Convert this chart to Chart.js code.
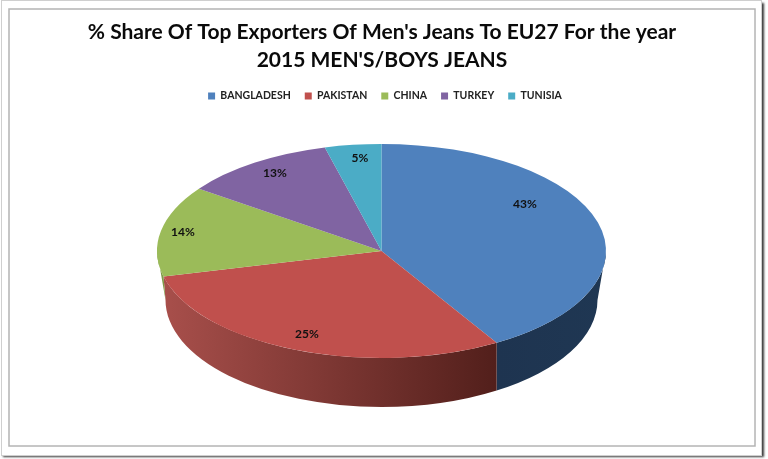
<!DOCTYPE html>
<html lang="en">
<head>
    <meta charset="UTF-8">
    <title>% Share Of Top Exporters</title>
    <style>
        html, body { margin: 0; padding: 0; background: #fff; }
        #wrap { width: 768px; height: 459px; }
    </style>
</head>
<body>
    <div id="wrap"><canvas id="myChart" width="768" height="459"></canvas></div>

    <script src="https://cdnjs.cloudflare.com/ajax/libs/Chart.js/4.4.0/chart.umd.min.js"></script>
    <script>
        const categories = ["BANGLADESH", "PAKISTAN", "CHINA", "TURKEY", "TUNISIA"];
        const shares = [43, 25, 14, 13, 5];
        const titleLines = ["% Share Of Top Exporters Of Men's Jeans To EU27 For the year", "2015 MEN'S/BOYS JEANS"];

        const topColors = ["#4f81bd", "#c0504d", "#9bbb59", "#8064a2", "#4bacc6"];
        const wallColors = [["#1e3450", "#1f3753"], ["#a84f4b", "#521f1b"], ["#7f9a48", "#7f9a48"], ["#5f4a7a", "#5f4a7a"], ["#35808f", "#35808f"]];
        const labelSpots = [[525, 204], [307, 334], [183, 232], [275, 173], [360, 158]];

        // where the pie lands on the page, top face and bottom rim
        const face = { x: 381.5, y: 251, rx: 224.5, ry: 107 };
        const rim = { x: 381.5, y: 300, rx: 216, ry: 107 };
        const tilt = 0.81; // the near side of the pie looks wider, like the perspective in the excel chart

        function warp(a) {
            // a is a canvas angle, 0 at top is -PI/2
            let t = a + Math.PI / 2;
            t = Math.atan2(Math.sin(t), Math.cos(t));
            let turns = (a + Math.PI / 2 - t);
            return 2 * Math.atan(tilt * Math.tan(t / 2)) + turns - Math.PI / 2;
        }

        // same x on the bottom rim, so the slice edge on the wall stays vertical
        function rimAngle(a) {
            const c = face.rx * Math.cos(a) / rim.rx;
            return Math.acos(Math.max(-1, Math.min(1, c)));
        }

        const pie3d = {
            id: "pie3d",
            beforeDraw(chart) {
                const ctx = chart.ctx;
                ctx.save();
                ctx.fillStyle = "#fff";
                ctx.fillRect(0, 0, 768, 459);
                ctx.shadowColor = "rgba(40,40,40,0.9)";
                ctx.shadowBlur = 2;
                ctx.shadowOffsetX = 2;
                ctx.shadowOffsetY = 2;
                ctx.fillRect(1, 1, 761, 454);
                ctx.shadowColor = "transparent";
                ctx.strokeStyle = "#cfcfcf";
                ctx.lineWidth = 1;
                ctx.strokeRect(1.5, 0.5, 760, 455);
                ctx.strokeStyle = "#b4b4b4";
                ctx.lineWidth = 1.5;
                ctx.strokeRect(9, 9, 746, 437);
                ctx.restore();
            },
            afterLayout(chart) {
                // legend sits a bit right of the title in the reference
                chart.legend.left += 3;
                chart.legend.right += 3;
            },
            afterDatasetsUpdate(chart) {
                chart.getDatasetMeta(0).data.forEach(arc => {
                    const s = warp(arc.startAngle);
                    const e = warp(arc.endAngle);
                    arc.startAngle = s;
                    arc.endAngle = e;
                    arc.circumference = e - s;
                });
            },
            beforeDatasetsDraw(chart) {
                const ctx = chart.ctx;
                const arcs = chart.getDatasetMeta(0).data;
                arcs.forEach((arc, i) => {
                    // only the front half of the wall shows
                    const a = Math.max(arc.startAngle, 0);
                    const b = Math.min(arc.endAngle, Math.PI);
                    if (b <= a) return;
                    const grad = ctx.createLinearGradient(
                        face.x + face.rx * Math.cos(b), 0, face.x + face.rx * Math.cos(a), 0);
                    grad.addColorStop(0, wallColors[i][0]);
                    grad.addColorStop(1, wallColors[i][1]);
                    ctx.beginPath();
                    ctx.ellipse(face.x, face.y, face.rx, face.ry, 0, a, b);
                    ctx.ellipse(rim.x, rim.y, rim.rx, rim.ry, 0, rimAngle(b), rimAngle(a), true);
                    ctx.closePath();
                    ctx.fillStyle = grad;
                    ctx.fill();
                });
                const first = arcs[0];
                const R = first.outerRadius;
                ctx.save();
                ctx.translate(face.x, face.y);
                ctx.scale(face.rx / R, face.ry / R);
                ctx.translate(-first.x, -first.y);
            },
            afterDatasetsDraw(chart) {
                const ctx = chart.ctx;
                ctx.restore();
                ctx.save();
                ctx.font = "bold 12px Lato";
                ctx.fillStyle = "#111";
                ctx.textAlign = "center";
                ctx.textBaseline = "middle";
                shares.forEach((v, i) => {
                    ctx.fillText(v + "%", labelSpots[i][0], labelSpots[i][1]);
                });
                ctx.restore();
            }
        };

        new Chart(document.getElementById("myChart").getContext("2d"), {
            type: "pie",
            data: {
                labels: categories,
                datasets: [{
                    data: shares,
                    backgroundColor: topColors,
                    borderWidth: 0
                }]
            },
            options: {
                responsive: false,
                animation: false,
                events: [],
                layout: { padding: { top: 18, bottom: 20, left: 0, right: 4 } },
                plugins: {
                    tooltip: { enabled: false },
                    title: {
                        display: true,
                        text: titleLines,
                        color: "#0a0a0a",
                        font: { family: "Lato", size: 21, weight: "bold", lineHeight: 1.35 },
                        padding: { top: 0, bottom: 2 }
                    },
                    legend: {
                        position: "top",
                        labels: {
                            color: "#222",
                            font: { family: "Lato", size: 10.5, weight: "bold" },
                            boxWidth: 7,
                            boxHeight: 7,
                            padding: 14
                        }
                    }
                }
            },
            plugins: [pie3d]
        });
    </script>
</body>
</html>
